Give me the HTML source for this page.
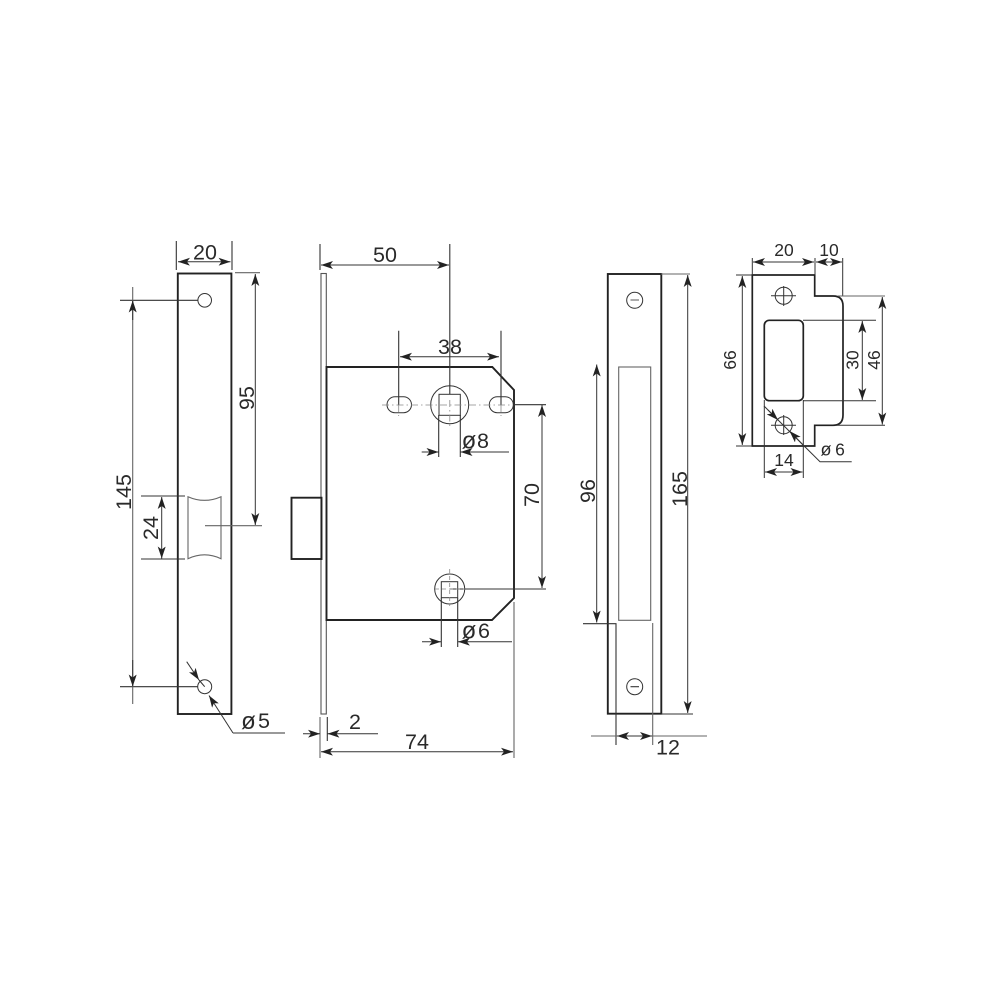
<!DOCTYPE html>
<html>
<head>
<meta charset="utf-8">
<style>
html,body{margin:0;padding:0;background:#fff}
svg{display:block}
text{font-family:"Liberation Sans",Arial,sans-serif;fill:#2a2a2a;text-anchor:middle}
.k{fill:none;stroke:#222;stroke-width:1.9}
.m{fill:none;stroke:#333;stroke-width:1.1}
.t{fill:none;stroke:#333;stroke-width:1}
.g{fill:none;stroke:#666;stroke-width:1.1}
.a{fill:none;stroke:#333;stroke-width:1;marker-start:url(#ar);marker-end:url(#ar)}
.e{fill:none;stroke:#333;stroke-width:1;marker-end:url(#ar)}
.c{fill:none;stroke:#888;stroke-width:.8;stroke-dasharray:7 3 1.5 3}
.b{font-size:21.5px}
.s{font-size:17.5px}
.d{font-size:24px;font-weight:400}
.ds{font-size:18px}
</style>
</head>
<body>
<svg width="1000" height="1000" viewBox="0 0 1000 1000" xmlns="http://www.w3.org/2000/svg">
<defs>
<marker id="ar" viewBox="0 0 12 8" refX="12" refY="4" markerWidth="12" markerHeight="8" markerUnits="userSpaceOnUse" orient="auto-start-reverse">
<path d="M0 0L12 4L0 8L3 4Z" fill="#222"/>
</marker>
</defs>
<rect width="1000" height="1000" fill="#fff"/>

<!-- Left faceplate -->
<rect class="k" x="177.8" y="273.5" width="53.6" height="440.5"/>
<circle class="t" cx="204.7" cy="300.3" r="6.8"/>
<circle class="t" cx="204.7" cy="686.7" r="7"/>
<path class="g" d="M188 496.7Q204.5 504 221 496.7V558.7Q204.5 551 188 558.7Z"/>
<path class="m" d="M176.3 241V270M232 241V270"/>
<path class="a" d="M178 261.7H230.5"/>
<text class="b" x="205" y="259.5">20</text>
<path class="g" d="M235 272.7H260M205 525.7H262"/>
<path class="a" d="M255.3 274V525"/>
<text class="b" transform="translate(254 398) rotate(-90)">95</text>
<path class="m" d="M120 300.3H198M120 686.7H198"/>
<path class="g" d="M132.7 287V704"/>
<path class="e" d="M132.7 320V300.5"/>
<path class="e" d="M132.7 660V686.5"/>
<text class="b" transform="translate(131 492) rotate(-90)">145</text>
<path class="m" d="M141 496H185M141 559H185"/>
<path class="a" d="M161.7 497V558.5"/>
<text class="b" transform="translate(158 528) rotate(-90)">24</text>
<path class="e" d="M186.7 661.7L199 680"/>
<path class="m" d="M199 680L204.7 686.7"/>
<path class="e" d="M233 733L209 695.5"/>
<path class="m" d="M233 733H285"/>
<text class="d" x="248.5" y="729">ø</text>
<text class="b" x="264" y="728">5</text>

<!-- Lock body -->
<rect class="g" x="321" y="273.5" width="5.3" height="440.5" style="stroke:#555"/>
<path class="k" d="M326.5 367H492.3L514 390V598L492 620H326.5Z"/>
<rect class="k" x="291.5" y="497.7" width="30" height="61.3"/>
<path class="m" d="M320 244V270M449.8 244V394"/>
<path class="a" d="M321 265H449"/>
<text class="b" x="385" y="262">50</text>
<path class="m" d="M398.7 330.7V405M501 330.7V405"/>
<path class="a" d="M400 356.7H499"/>
<text class="b" x="450" y="354">38</text>
<rect class="t" x="387" y="396.7" width="24.5" height="16" rx="8"/>
<rect class="t" x="489.3" y="396.7" width="24" height="16" rx="8"/>
<circle class="t" cx="449.7" cy="404.7" r="19"/>
<rect class="t" x="439" y="394.3" width="21.3" height="21"/>
<path class="c" d="M382 405H512M398.7 405V416M501 405V416M449.8 400V427"/>
<path class="m" d="M438.7 415V457M460.3 415V457"/>
<path class="e" d="M421.7 452H438.5"/>
<path class="e" d="M509 452H460.5"/>
<text class="d" x="469" y="448.5">ø</text>
<text class="b" x="483" y="448">8</text>
<path class="m" d="M514 404.7H546M450 589H546"/>
<path class="a" d="M542 405V588"/>
<text class="b" transform="translate(539 495) rotate(-90)">70</text>
<circle class="t" cx="449.7" cy="589" r="15"/>
<rect class="t" x="441.3" y="581.7" width="16.4" height="16"/>
<path class="c" d="M435 589H465M449.7 569V606" style="stroke-dasharray:4 3"/>
<path class="m" d="M441.3 598V647M457.7 598V647"/>
<path class="e" d="M422 641.7H441"/>
<path class="e" d="M512 641.7H458"/>
<text class="d" x="469" y="638.5">ø</text>
<text class="b" x="484" y="638">6</text>
<path class="g" d="M514 602V758"/>
<path class="g" d="M320 717V758"/>
<path class="m" d="M327.3 717V741"/>
<path class="e" d="M303 733.7H320"/>
<path class="e" d="M378 733.7H327.5"/>
<text class="b" x="355" y="729">2</text>
<path class="a" d="M321 751.7H513"/>
<text class="b" x="417" y="749">74</text>

<!-- Right faceplate -->
<rect class="k" x="607.8" y="274" width="53.5" height="439.7"/>
<rect class="g" x="618.7" y="367" width="32" height="253.3"/>
<circle class="t" cx="634.7" cy="300.3" r="8"/>
<path class="g" d="M630.5 300H639"/>
<circle class="t" cx="634.7" cy="686.7" r="8"/>
<path class="m" d="M630.5 686.7H639"/>
<path class="a" d="M596.7 364.5V622.5"/>
<text class="b" transform="translate(595 491) rotate(-90)">96</text>
<path class="m" d="M583 623.7H616V745"/>
<path class="g" d="M652.7 623V745"/>
<path class="g" d="M591 736H707"/>
<path class="a" d="M617 736H652"/>
<text class="b" x="668" y="754.5">12</text>
<path class="g" d="M661 274H690"/>
<path class="m" d="M661 714H693"/>
<path class="a" d="M687.7 275V713"/>
<text class="b" transform="translate(687 489) rotate(-90)">165</text>

<!-- Strike plate -->
<path class="k" d="M752.3 275H814.7V296H833Q843 296 843 306V415Q843 425.3 833 425.3H814.7V446H752.3Z" style="stroke-width:1.7"/>
<rect class="k" x="764.3" y="320.3" width="39" height="80.4" rx="5" style="stroke-width:1.7"/>
<circle class="t" cx="783.7" cy="295.7" r="8.5"/>
<path class="t" d="M771 295.7H796M783.7 286V306"/>
<circle class="t" cx="783.7" cy="425.3" r="8.5"/>
<path class="t" d="M771 425.3H796M783.7 415V435"/>
<path class="t" d="M752.3 258V275M815 258V275M842.7 258V296"/>
<path class="a" d="M753 262H814"/>
<path class="a" d="M816 262H842"/>
<text class="s" x="784" y="256">20</text>
<text class="s" x="829" y="256">10</text>
<path class="t" d="M736 275H752M736 446H752"/>
<path class="a" d="M742.3 276V445"/>
<text class="s" transform="translate(736 360) rotate(-90)">66</text>
<path class="t" d="M803 320.3H876M803 400.7H876"/>
<path class="a" d="M862.3 321V400"/>
<text class="s" transform="translate(858.5 360) rotate(-90)">30</text>
<path class="g" d="M838 296H885"/>
<path class="t" d="M835 425.3H885"/>
<path class="a" d="M882.3 297V424.5"/>
<text class="s" transform="translate(880 360) rotate(-90)">46</text>
<path class="t" d="M764.3 400V478M803.3 400V478"/>
<path class="a" d="M765 472H802.5"/>
<text class="s" x="784" y="466">14</text>
<path class="t" d="M764 406L820 461.7H851.7"/>
<path class="e" d="M768 410L778 420"/>
<path class="e" d="M805 447L789.5 431"/>
<text class="ds" x="826" y="455.5">ø</text>
<text class="s" x="840" y="455.5">6</text>
</svg>
</body>
</html>
